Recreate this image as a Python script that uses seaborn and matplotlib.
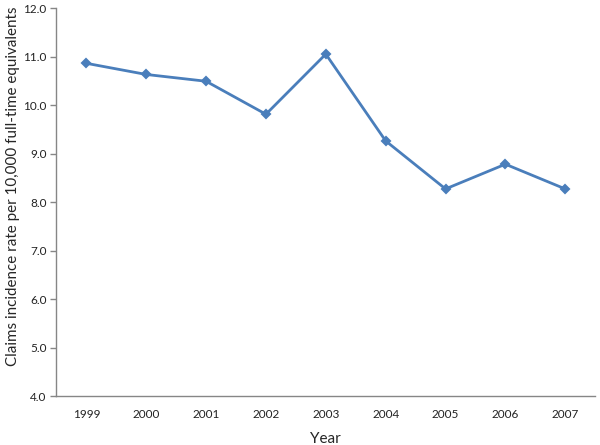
import pandas as pd
import matplotlib
matplotlib.use('Agg')
import matplotlib.pyplot as plt
import seaborn as sns

years = ['1999', '2000', '2001', '2002', '2003', '2004', '2005', '2006', '2007']
rates = [10.86, 10.63, 10.49, 9.81, 11.05, 9.26, 8.27, 8.78, 8.27]
y_ticks = [4.0, 5.0, 6.0, 7.0, 8.0, 9.0, 10.0, 11.0, 12.0]

df = pd.DataFrame({'year': years, 'rate': rates})

sns.set_style('white')
plt.rcParams['font.family'] = ['Lato', 'DejaVu Sans']

fig = plt.figure(figsize=(6, 4.45), dpi=100)
ax = fig.add_axes([0.094, 0.110, 0.898, 0.872])

sns.pointplot(data=df, x='year', y='rate', color='#4a7ebb', markers='D',
              markersize=4.5, linewidth=2, ax=ax)

ax.set_xlim(-0.5, len(years) - 0.5)
ax.set_ylim(4.0, 12.0)
ax.set_yticks(y_ticks)
ax.set_yticklabels(['%.1f' % v for v in y_ticks])

sns.despine(ax=ax)
for side in ['left', 'bottom']:
    ax.spines[side].set_color('#868686')
    ax.spines[side].set_linewidth(1)

ax.tick_params(axis='y', length=4, width=1, color='#868686', labelsize=8.5,
               labelcolor='#222222', direction='out', left=True, pad=3)
ax.tick_params(axis='x', length=0, labelsize=8.5, labelcolor='#222222', pad=9)

ax.set_xlabel('Year', fontsize=11, labelpad=9)
ax.set_ylabel('Claims incidence rate per 10,000 full-time equivalents', fontsize=10.9)
ax.yaxis.set_label_coords(-0.068, 0.54)

fig.savefig('out.png', dpi=100)
